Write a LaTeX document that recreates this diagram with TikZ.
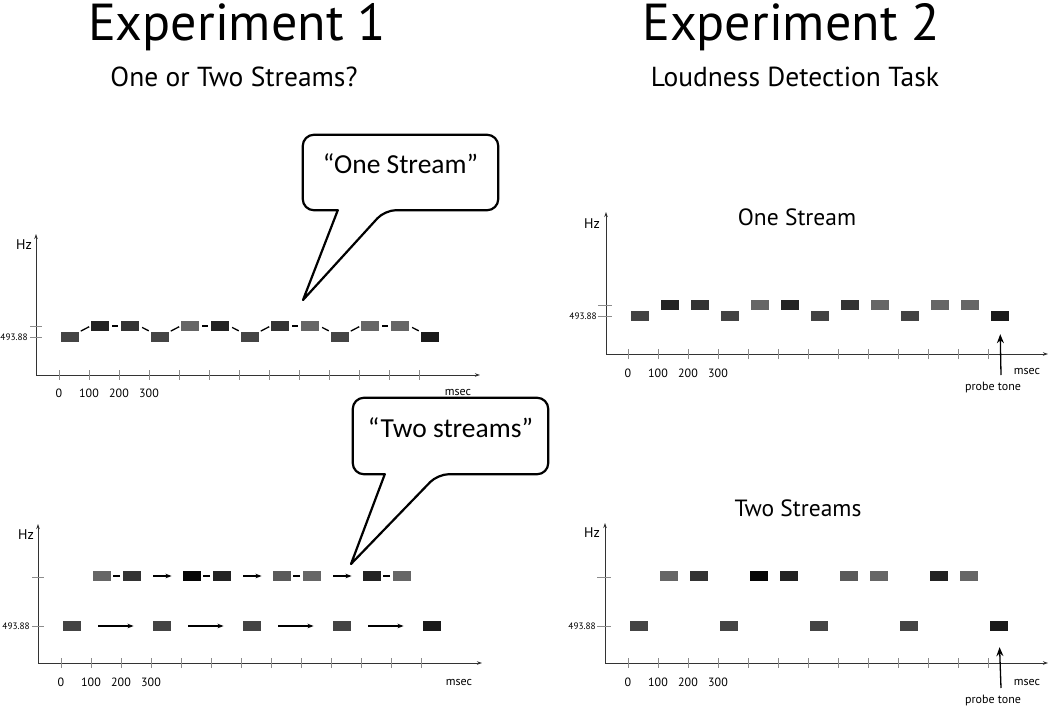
\documentclass[tikz,border=0pt]{standalone}
\usepackage{fontspec}
\setmainfont{PT Sans}
\newfontfamily\bubblefont{Carlito}
\usetikzlibrary{arrows.meta,calc}
\definecolor{toneA}{HTML}{444444}
\definecolor{toneB}{HTML}{222222}
\definecolor{toneC}{HTML}{333333}
\definecolor{toneD}{HTML}{666666}
\definecolor{toneE}{HTML}{050505}
\definecolor{toneF}{HTML}{1A1A1A}
\definecolor{toneG}{HTML}{5A5A5A}

\begin{document}
\begin{tikzpicture}[x=1pt,y=-1pt,>=Stealth,
  axis/.style={draw=black!80,line width=0.9pt,-{Stealth[length=5pt,width=3.5pt]}},
  tick/.style={draw=black!45,line width=0.7pt},
  tone/.style={rectangle,minimum width=18.5pt,minimum height=10pt,inner sep=0pt},
  link/.style={line width=1.3pt,shorten <=1.5pt,shorten >=1.5pt},
  flow/.style={line width=1.1pt,-{Stealth[length=6pt,width=4.5pt]}},
  probe/.style={line width=1.3pt,-{Stealth[length=9pt,width=7pt]}},
  title/.style={font=\fontsize{52}{60}\selectfont,anchor=base,inner sep=0pt},
  subtitle/.style={font=\fontsize{27.5}{32}\selectfont,anchor=base,inner sep=0pt},
  panel/.style={font=\fontsize{23.5}{28}\selectfont,anchor=base,inner sep=0pt},
  ticklab/.style={font=\fontsize{12}{14}\selectfont,inner sep=0pt},
  freqlab/.style={font=\fontsize{9.3}{11}\selectfont,anchor=east,inner sep=0pt},
  unitlab/.style={font=\fontsize{14}{16}\selectfont,inner sep=0pt},
  bubble/.style={font=\bubblefont\fontsize{27.5}{32}\selectfont,minimum width=195pt,inner sep=0pt,anchor=base},
  bubbleline/.style={line width=2.2pt,line join=round}]
  \useasboundingbox (0,0) rectangle (1050,707);

  % titles
  \node[title] (ex1) at (237,40) {Experiment 1};
  \node[subtitle] (ex1q) at (234,86) {One or Two Streams?};
  \node[title] (ex2) at (791,40) {Experiment 2};
  \node[subtitle] (ex2q) at (795,86) {Loudness Detection Task};
  \node[panel] (trt) at (797,225) {One Stream};
  \node[panel] (brt) at (798,516) {Two Streams};

  % experiment 1, one stream
  \begin{scope}[shift={(36,375)}]
    \coordinate (tlo) at (0,0);
    \coordinate (tly) at (0,-141);
    \coordinate (tlx) at (444,0);
    \draw[axis] (tlo) -- (tly);
    \draw[axis] (tlo) -- (tlx);
    \foreach \k in {0,...,12} \draw[tick] (23+30*\k,-5) -- (23+30*\k,5);
    \foreach \k/\t in {0/0,1/100,2/200,3/300} \node[ticklab] (tll\k) at (23+30*\k,18) {\t};
    \draw[tick] (-6,-38) -- (6,-38);
    \draw[tick] (-6,-49) -- (6,-49);
    \node[freqlab] (tlf) at (-8,-38) {493.88};
    \node[unitlab] (tlhz) at (-12,-130) {Hz};
    \node[ticklab] (tlms) at (422,17) {msec};
    \foreach \k/\h/\c in {0/38/toneA,1/49/toneB,2/49/toneC,3/38/toneA,4/49/toneD,5/49/toneB,
        6/38/toneA,7/49/toneC,8/49/toneD,9/38/toneA,10/49/toneD,11/49/toneD,12/38/toneF}
      \node[tone,fill=\c] (tl\k) at (34+30*\k,-\h) {};
    \foreach \a/\b in {0/1,3/4,6/7,9/10} \draw[link] (tl\a.north east) -- (tl\b.west);
    \foreach \a/\b in {1/2,4/5,7/8,10/11} \draw[link,shorten <=3pt,shorten >=3pt] (tl\a.east) -- (tl\b.west);
    \foreach \a/\b in {2/3,5/6,8/9,11/12} \draw[link,shorten <=3pt,shorten >=2pt] (tl\a.east) -- (tl\b.north west);
  \end{scope}

  % experiment 1, two streams
  \begin{scope}[shift={(38,663)}]
    \coordinate (blo) at (0,0);
    \coordinate (bly) at (0,-139);
    \coordinate (blx) at (444,0);
    \draw[axis] (blo) -- (bly);
    \draw[axis] (blo) -- (blx);
    \foreach \k in {0,...,12} \draw[tick] (23+30*\k,-5) -- (23+30*\k,5);
    \foreach \k/\t in {0/0,1/100,2/200,3/300} \node[ticklab] (bll\k) at (23+30*\k,19) {\t};
    \draw[tick] (-6,-37) -- (6,-37);
    \draw[tick] (-6,-86) -- (6,-86);
    \node[freqlab] (blf) at (-8,-37) {493.88};
    \node[unitlab] (blhz) at (-12,-128) {Hz};
    \node[ticklab] (blms) at (421,19) {msec};
    \foreach \k/\h/\c in {0/37/toneA,1/87/toneD,2/87/toneC,3/37/toneA,4/87/toneE,5/87/toneB,
        6/37/toneA,7/87/toneG,8/87/toneD,9/37/toneA,10/87/toneB,11/87/toneD,12/37/toneF}
      \node[tone,fill=\c] (bl\k) at (34+30*\k,-\h) {};
    \foreach \a/\b in {1/2,4/5,7/8,10/11} \draw[link,shorten <=2pt,shorten >=3pt] (bl\a.east) -- (bl\b.west);
    \foreach \a/\b in {2/4,5/7,8/10} \draw[flow,shorten <=12pt,shorten >=11pt] (bl\a.east) -- (bl\b.west);
    \foreach \a/\b in {0/3,3/6,6/9,9/12} \draw[flow,shorten <=17pt,shorten >=19pt] (bl\a.east) -- (bl\b.west);
  \end{scope}

  % experiment 2, one stream
  \begin{scope}[shift={(606,354)}]
    \coordinate (tro) at (0,0);
    \coordinate (try) at (0,-142);
    \coordinate (trx) at (442,0);
    \draw[axis] (tro) -- (try);
    \draw[axis] (tro) -- (trx);
    \foreach \k in {0,...,12} \draw[tick] (22+30*\k,-5) -- (22+30*\k,5);
    \foreach \k/\t in {0/0,1/100,2/200,3/300} \node[ticklab] (trl\k) at (22+30*\k,19) {\t};
    \draw[tick] (-8,-38) -- (6,-38);
    \draw[tick] (-8,-49) -- (6,-49);
    \node[freqlab] (trf) at (-9,-38) {493.88};
    \node[unitlab] (trhz) at (-14,-130) {Hz};
    \node[ticklab] (trms) at (421,17) {msec};
    \foreach \k/\h/\c in {0/38/toneA,1/49/toneB,2/49/toneC,3/38/toneA,4/49/toneD,5/49/toneB,
        6/38/toneA,7/49/toneC,8/49/toneD,9/38/toneA,10/49/toneD,11/49/toneD,12/38/toneF}
      \node[tone,fill=\c] (tr\k) at (34+30*\k,-\h) {};
    \coordinate (trp) at (395,21);
    \node[ticklab] (trpl) at (387,33) {probe tone};
    \draw[probe,shorten >=13pt] (trp) -- (tr12.south);
  \end{scope}

  % experiment 2, two streams
  \begin{scope}[shift={(605,663)}]
    \coordinate (bro) at (0,0);
    \coordinate (bry) at (0,-140);
    \coordinate (brx) at (443,0);
    \draw[axis] (bro) -- (bry);
    \draw[axis] (bro) -- (brx);
    \foreach \k in {0,...,12} \draw[tick] (23+30*\k,-5) -- (23+30*\k,5);
    \foreach \k/\t in {0/0,1/100,2/200,3/300} \node[ticklab] (brl\k) at (23+30*\k,19) {\t};
    \draw[tick] (-8,-37) -- (6,-37);
    \draw[tick] (-8,-86) -- (6,-86);
    \node[freqlab] (brf) at (-9,-37) {493.88};
    \node[unitlab] (brhz) at (-13,-130) {Hz};
    \node[ticklab] (brms) at (422,19) {msec};
    \foreach \k/\h/\c in {0/37/toneA,1/87/toneD,2/87/toneC,3/37/toneA,4/87/toneE,5/87/toneB,
        6/37/toneA,7/87/toneG,8/87/toneD,9/37/toneA,10/87/toneB,11/87/toneD,12/37/toneF}
      \node[tone,fill=\c] (br\k) at (34+30*\k,-\h) {};
    \coordinate (brp) at (396,25);
    \node[ticklab] (brpl) at (388,37) {probe tone};
    \draw[probe,shorten >=16pt] (brp) -- (br12.south);
  \end{scope}

  % speech bubbles
  \node[bubble,text height=38pt,text depth=37pt] (bub1) at (400.5,173) {“One Stream”};
  \coordinate (tip1) at (303,300);
  \draw[bubbleline] ($(bub1.south west)+(35,0)$) [rounded corners=11pt] -- (bub1.south west)
    -- (bub1.north west) -- (bub1.north east) -- (bub1.south east)
    -- ($(bub1.south west)+(82,0)$) [sharp corners] -- (tip1) -- cycle;
  \node[bubble,text height=39pt,text depth=37pt] (bub2) at (450.5,437) {“Two streams”};
  \coordinate (tip2) at (351,564);
  \draw[bubbleline] ($(bub2.south west)+(32,0)$) [rounded corners=11pt] -- (bub2.south west)
    -- (bub2.north west) -- (bub2.north east) -- (bub2.south east)
    -- ($(bub2.south west)+(85,0)$) [sharp corners] -- (tip2) -- cycle;
\end{tikzpicture}
\end{document}
